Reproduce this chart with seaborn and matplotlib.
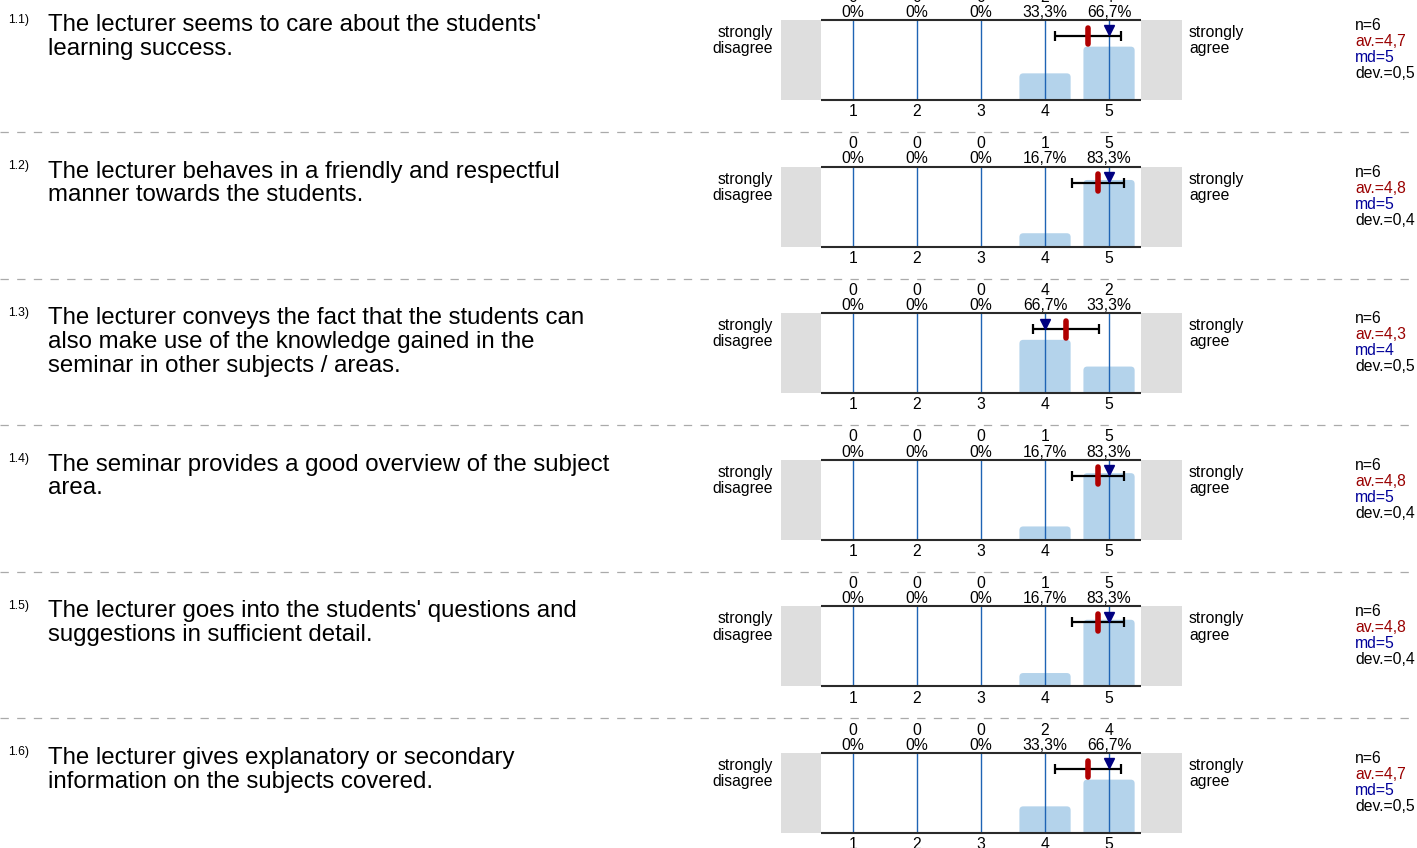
import matplotlib
matplotlib.use("Agg")
import matplotlib.pyplot as plt
import seaborn as sns
import pandas as pd
from matplotlib.patches import FancyBboxPatch
from matplotlib.lines import Line2D

# ---------------- data ----------------
item_numbers = ["1.1)", "1.2)", "1.3)", "1.4)", "1.5)", "1.6)"]
questions = [
    "The lecturer seems to care about the students'\nlearning success.",
    "The lecturer behaves in a friendly and respectful\nmanner towards the students.",
    "The lecturer conveys the fact that the students can\nalso make use of the knowledge gained in the\nseminar in other subjects / areas.",
    "The seminar provides a good overview of the subject\narea.",
    "The lecturer goes into the students' questions and\nsuggestions in sufficient detail.",
    "The lecturer gives explanatory or secondary\ninformation on the subjects covered.",
]
scale_points = [1, 2, 3, 4, 5]
left_pole = "strongly\ndisagree"
right_pole = "strongly\nagree"
counts = [
    [0, 0, 0, 2, 4],
    [0, 0, 0, 1, 5],
    [0, 0, 0, 4, 2],
    [0, 0, 0, 1, 5],
    [0, 0, 0, 1, 5],
    [0, 0, 0, 2, 4],
]
percents = [
    [0, 0, 0, 33.3, 66.7],
    [0, 0, 0, 16.7, 83.3],
    [0, 0, 0, 66.7, 33.3],
    [0, 0, 0, 16.7, 83.3],
    [0, 0, 0, 16.7, 83.3],
    [0, 0, 0, 33.3, 66.7],
]
n_resp = [6, 6, 6, 6, 6, 6]
means = [4.67, 4.83, 4.33, 4.83, 4.83, 4.67]
std_devs = [0.52, 0.41, 0.52, 0.41, 0.41, 0.52]
medians = [5, 5, 4, 5, 5, 5]
av_labels = ["4,7", "4,8", "4,3", "4,8", "4,8", "4,7"]
dev_labels = ["0,5", "0,4", "0,5", "0,4", "0,4", "0,5"]

# ---------------- style ----------------
sns.set_theme(style="white")
plt.rcParams['font.family'] = ['Liberation Sans', 'DejaVu Sans']
plt.rcParams['lines.scale_dashes'] = False
plt.rcParams['text.color'] = 'black'
plt.rcParams['xtick.color'] = 'black'
plt.rcParams['xtick.labelcolor'] = 'black'

W, H = 1417, 848
PX = 0.72  # points per pixel at dpi 100
fig = plt.figure(figsize=(W / 100, H / 100), dpi=100)
fig.patch.set_facecolor("white")

BAR_COLOR = "#b4d3eb"
VLINE_COLOR = "#1f64b4"
GREY = "#dedede"
RED = "#b00000"
NAVY = "#000080"
AV_COLOR = "#990000"
MD_COLOR = "#000099"

small_fs = 15.8 * PX
q_fs = 24 * PX


def fy(y):
    return 1 - y / H


for i in range(len(questions)):
    top = 20 + i * 146.6
    ax = fig.add_axes([781 / W, fy(top + 80), 401 / W, 80 / H])
    for s in ax.spines.values():
        s.set_visible(False)
    ax.set_facecolor("none")

    df = pd.DataFrame({"value": scale_points, "pct": percents[i]})
    sns.barplot(data=df, x="value", y="pct", native_scale=True, ax=ax,
                color=BAR_COLOR, saturation=1, width=0.8, zorder=1)
    # rounded bars (replace seaborn rectangles, keep their geometry)
    rects = list(ax.patches)
    for r in rects:
        x0, w, h = r.get_x(), r.get_width(), r.get_height()
        r.remove()
        if h <= 0:
            continue
        fb = FancyBboxPatch((x0, -12), w, h + 12,
                            boxstyle="round,pad=0,rounding_size=0.06",
                            mutation_aspect=80, fc=BAR_COLOR, ec="none",
                            zorder=1)
        ax.add_patch(fb)
    ax.set_xlim(-0.125, 6.14)
    ax.set_ylim(0, 100)

    # grey end boxes
    ax.axvspan(-0.125, 0.5, color=GREY, lw=0, zorder=0)
    ax.axvspan(5.5, 6.14, color=GREY, lw=0, zorder=0)

    ax.vlines(scale_points, 0, 100, color=VLINE_COLOR, lw=1.0, zorder=2)
    ax.hlines([0, 100], 0.5, 5.5, color="#2a2a2a", lw=1.5, zorder=3,
              clip_on=False)

    # error bar, mean and median
    ax.errorbar(means[i], 80, xerr=std_devs[i], fmt="none", ecolor="black",
                elinewidth=1.6, capsize=3.3, capthick=1.6, zorder=4)
    ax.plot([means[i], means[i]], [69.5, 90.5], color=RED, lw=4.0,
            solid_capstyle="round", zorder=5)
    ax.plot([medians[i]], [87], marker="v", ms=7.6, color=NAVY,
            mec=NAVY, lw=0, zorder=6)

    # ticks
    ax.set_xticks(scale_points)
    ax.set_xticklabels([str(v) for v in scale_points])
    ax.set_yticks([])
    ax.tick_params(axis="x", length=0, pad=3.0, labelsize=small_fs,
                   colors="black")
    ax.set_xlabel("")
    ax.set_ylabel("")

    # counts and percentages above
    for v, c, p in zip(scale_points, counts[i], percents[i]):
        plab = "0%" if p == 0 else (f"{p:.1f}%").replace(".", ",")
        ax.annotate(str(c), xy=(v, 100), xycoords="data",
                    xytext=(0, 18.4 * PX), textcoords="offset points",
                    ha="center", va="baseline", fontsize=small_fs,
                    annotation_clip=False)
        ax.annotate(plab, xy=(v, 100), xycoords="data",
                    xytext=(0, 3.2 * PX), textcoords="offset points",
                    ha="center", va="baseline", fontsize=small_fs,
                    annotation_clip=False)

    # question texts
    fig.text(8 / W, fy(top - 6.5), item_numbers[i], fontsize=12.2 * PX,
             ha="left", va="top")
    fig.text(48 / W, fy(top - 6), questions[i], fontsize=q_fs,
             ha="left", va="top", linespacing=1.1)

    # poles
    fig.text(773 / W, fy(top + 5), left_pole, fontsize=small_fs,
             ha="right", va="top", linespacing=1.1)
    fig.text(1189 / W, fy(top + 5), right_pole, fontsize=small_fs,
             ha="left", va="top", linespacing=1.1)

    # statistics
    sx = 1355 / W
    fig.text(sx, fy(top - 2), f"n={n_resp[i]}", fontsize=small_fs,
             ha="left", va="top", color="black")
    fig.text(sx, fy(top + 14), f"av.={av_labels[i]}", fontsize=small_fs,
             ha="left", va="top", color=AV_COLOR)
    fig.text(sx, fy(top + 30), f"md={medians[i]}", fontsize=small_fs,
             ha="left", va="top", color=MD_COLOR)
    fig.text(sx, fy(top + 46), f"dev.={dev_labels[i]}", fontsize=small_fs,
             ha="left", va="top", color="black")

    # separator
    if i < len(questions) - 1:
        ysep = fy(top + 112)
        ln = Line2D([0, 1], [ysep, ysep], transform=fig.transFigure,
                    color="#aaaaaa", lw=0.9, dash_capstyle="butt")
        ln.set_dashes((6.0, 6.0))
        fig.add_artist(ln)

fig.savefig("out.png", dpi=100, facecolor="white")
